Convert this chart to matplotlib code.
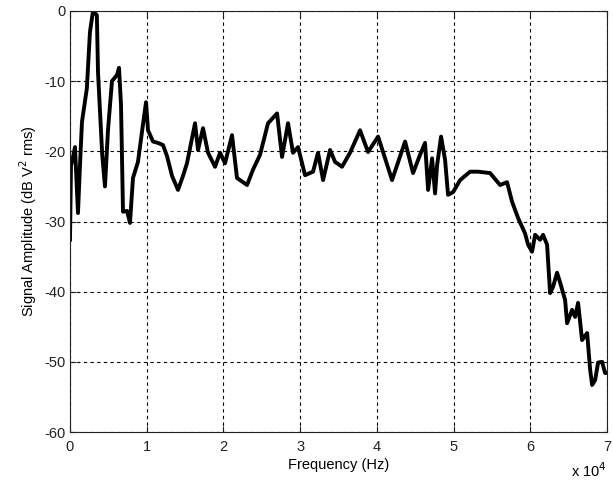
import matplotlib
matplotlib.use("Agg")
import matplotlib.pyplot as plt
import numpy as np

# Frequency in Hz and amplitude in dB
freq_hz = [0, 130, 260, 650, 1040, 1300, 1560, 2200, 2600, 3000, 3500, 3650,
           4200, 4560, 4950, 5470, 6130, 6390, 6650, 6910, 7430, 7820, 8210,
           8860, 9510, 9910, 10170, 10820, 11470, 12120, 12650, 13300, 14080,
           14730, 15250, 16300, 16690, 17340, 17990, 18910, 19560, 20210,
           21120, 21770, 23080, 23860, 24770, 25810, 26990, 27640, 28420,
           29070, 29730, 30640, 31680, 32330, 32990, 33900, 34550, 35460,
           36510, 37810, 38850, 40160, 41980, 43680, 44720, 45630, 46280,
           46680, 47200, 47590, 47850, 48370, 48890, 49280, 49940, 50850,
           52150, 53190, 54760, 56060, 56970, 57630, 58410, 59320, 59710,
           60230, 60630, 61280, 61670, 62190, 62580, 62970, 63490, 63890,
           64540, 64800, 65450, 65840, 66230, 66750, 67410, 67800, 68060,
           68450, 68840, 69360, 69750, 70000]
amp_db = [-32.6, -22.0, -21.5, -19.4, -28.8, -22.0, -15.8, -11.0, -3.0, 0.0,
          -0.6, -8.7, -20.5, -25.0, -17.0, -10.0, -9.1, -8.1, -13.4, -28.6,
          -28.5, -30.2, -23.8, -21.5, -16.2, -13.0, -17.0, -18.6, -18.8,
          -19.1, -20.7, -23.5, -25.5, -23.5, -21.7, -16.0, -19.8, -16.7,
          -20.2, -22.2, -20.2, -21.7, -17.7, -23.8, -24.8, -22.6, -20.5,
          -16.0, -14.6, -20.8, -16.0, -20.2, -19.4, -23.4, -22.9, -20.2,
          -24.1, -19.8, -21.5, -22.2, -20.2, -17.0, -20.1, -17.9, -24.1,
          -18.6, -23.1, -20.5, -18.8, -25.5, -21.0, -26.0, -22.0, -17.9,
          -21.2, -26.2, -25.8, -24.1, -22.9, -22.9, -23.1, -24.8, -24.4,
          -27.2, -29.5, -31.7, -33.3, -34.3, -31.9, -32.6, -31.9, -33.3,
          -40.2, -39.3, -37.3, -38.7, -41.2, -44.5, -42.6, -43.6, -41.6,
          -46.9, -45.9, -51.1, -53.3, -52.6, -50.1, -50.0, -51.6, -51.6]

x_ticks = [0, 1, 2, 3, 4, 5, 6, 7]
y_ticks = [0, -10, -20, -30, -40, -50, -60]

plt.rcParams['font.family'] = ['Liberation Sans', 'DejaVu Sans']

fig = plt.figure(figsize=(6.13, 4.84), dpi=100)
ax = fig.add_axes([70/613, 1-432/484, (607-70)/613, (432-11)/484])

ax.plot(np.array(freq_hz) / 1e4, amp_db, color='black', linewidth=2.8,
        solid_joinstyle='round')

ax.set_xlim(0, 7)
ax.set_ylim(-60, 0)
ax.set_xticks(x_ticks)
ax.set_yticks(y_ticks)
ax.set_xticklabels([str(t) for t in x_ticks])
ax.set_yticklabels([str(t) for t in y_ticks])
ax.grid(True, color='black', linestyle=(0, (3, 3)), linewidth=0.8)
ax.tick_params(direction='in', length=4, width=0.8, top=True, right=True,
               labelsize=10.5, colors='#222222', pad=3)
ax.tick_params(axis='x', pad=6)
for s in ax.spines.values():
    s.set_linewidth(0.8)
    s.set_color('#222222')

ax.set_xlabel('Frequency (Hz)', fontsize=10.5, labelpad=3)
ax.set_ylabel('Signal Amplitude (dB V$^2$ rms)', fontsize=10.5, labelpad=4)
ax.text(1.0, -0.106, 'x 10$^4$', transform=ax.transAxes, ha='right',
        va='baseline', fontsize=10.5)

fig.savefig('out.png', dpi=100)
